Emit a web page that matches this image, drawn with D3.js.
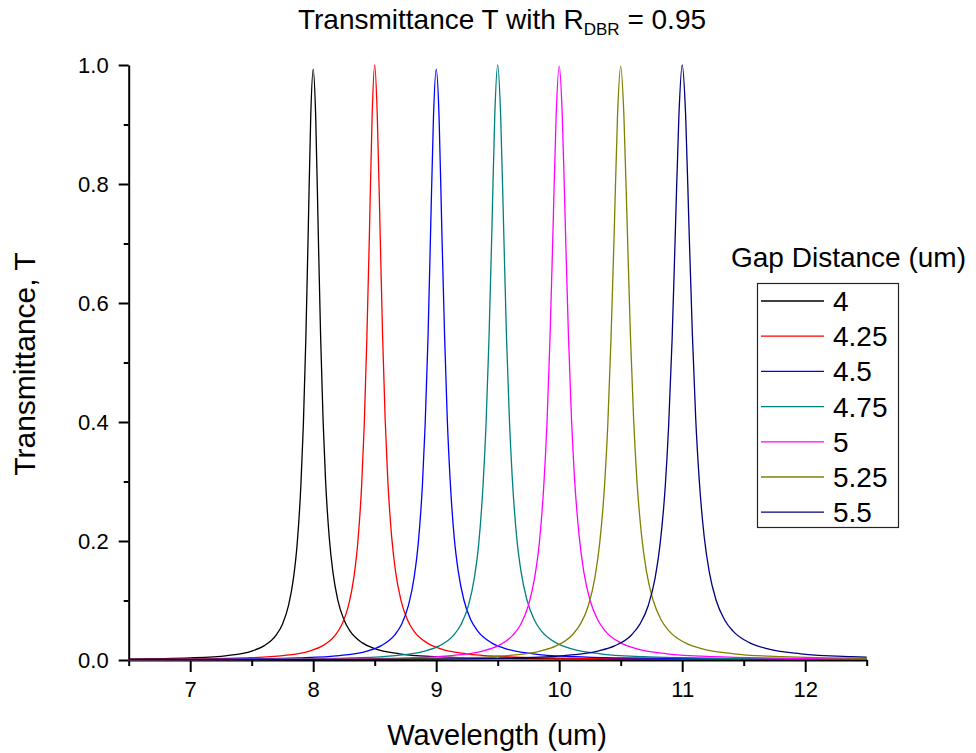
<!DOCTYPE html>
<html>
<head>
<meta charset="utf-8">
<script src="https://cdn.jsdelivr.net/npm/d3@7"></script>
<style>
  html, body { margin: 0; padding: 0; background: #fff; }
  svg text { font-family: "Liberation Sans", Arial, sans-serif; fill: #000; }
</style>
</head>
<body>
<svg id="chart" width="976" height="753"></svg>
<script>
// ---------- data ----------
const gapLabels = ["4", "4.25", "4.5", "4.75", "5", "5.25", "5.5"];
const xTicks = [7, 8, 9, 10, 11, 12];
const xMinorTicks = [6.5, 7.5, 8.5, 9.5, 10.5, 11.5, 12.5];
const yTicks = [0, 0.2, 0.4, 0.6, 0.8, 1.0];
const yMinorTicks = [0.1, 0.3, 0.5, 0.7, 0.9];

const gap4 = [[6.5,0.0015],[7.0,0.0035],[7.3,0.0074],[7.5,0.0150],[7.6,0.0237],[7.7,0.0421],[7.75,0.0602],[7.8,0.0921],[7.84,0.138],[7.87,0.196],[7.9,0.294],[7.92,0.395],[7.94,0.539],[7.96,0.725],[7.98,0.914],[8.0,0.993],[8.02,0.915],[8.04,0.729],[8.06,0.546],[8.08,0.405],[8.1,0.304],[8.13,0.207],[8.16,0.148],[8.2,0.1008],[8.25,0.0677],[8.3,0.0485],[8.4,0.0288],[8.5,0.0191],[8.7,0.0104],[9.0,0.0056],[9.5,0.0029],[10.5,0.0014],[11.5,0.00098],[12.5,0.0008]];
const gap425 = [[6.5,0.00097],[7.0,0.0017],[7.438,0.0035],[7.756,0.0074],[7.969,0.0150],[8.075,0.0237],[8.181,0.0421],[8.234,0.0602],[8.288,0.0921],[8.330,0.138],[8.362,0.196],[8.394,0.294],[8.415,0.395],[8.436,0.539],[8.458,0.725],[8.479,0.914],[8.5,1.0],[8.521,0.915],[8.543,0.729],[8.564,0.546],[8.585,0.405],[8.606,0.304],[8.638,0.207],[8.670,0.148],[8.713,0.1008],[8.766,0.0677],[8.819,0.0485],[8.925,0.0288],[9.031,0.0191],[9.244,0.0104],[9.563,0.0056],[10.0,0.0032],[11.0,0.0015],[12.5,0.00092]];
const gap45 = [[6.5,0.00075],[7.0,0.00108],[7.5,0.0019],[7.875,0.0035],[8.213,0.0074],[8.438,0.0150],[8.55,0.0237],[8.663,0.0421],[8.719,0.0602],[8.775,0.0921],[8.82,0.138],[8.854,0.196],[8.888,0.294],[8.91,0.395],[8.933,0.539],[8.955,0.725],[8.978,0.914],[9.0,0.993],[9.023,0.915],[9.045,0.729],[9.068,0.546],[9.09,0.405],[9.113,0.304],[9.146,0.207],[9.18,0.148],[9.225,0.1008],[9.281,0.0677],[9.338,0.0485],[9.45,0.0288],[9.563,0.0191],[9.788,0.0104],[10.125,0.0056],[10.5,0.0035],[11.5,0.00165],[12.5,0.0011]];
const gap475 = [[6.5,0.00067],[7.5,0.0012],[8.0,0.0021],[8.313,0.0035],[8.669,0.0074],[8.906,0.0150],[9.025,0.0237],[9.144,0.0421],[9.203,0.0602],[9.263,0.0921],[9.31,0.138],[9.346,0.196],[9.381,0.294],[9.405,0.395],[9.429,0.539],[9.453,0.725],[9.476,0.914],[9.5,1.0],[9.524,0.915],[9.548,0.729],[9.571,0.546],[9.595,0.405],[9.619,0.304],[9.654,0.207],[9.69,0.148],[9.738,0.1008],[9.797,0.0677],[9.856,0.0485],[9.975,0.0288],[10.094,0.0191],[10.331,0.0104],[10.688,0.0056],[11.0,0.0038],[11.5,0.0024],[12.5,0.0014]];
const gap5 = [[6.5,0.00067],[7.0,0.00069],[8.0,0.0013],[8.5,0.0024],[8.75,0.0035],[9.125,0.0074],[9.375,0.0150],[9.5,0.0237],[9.625,0.0421],[9.688,0.0602],[9.75,0.0921],[9.8,0.138],[9.838,0.196],[9.875,0.294],[9.9,0.395],[9.925,0.539],[9.95,0.725],[9.975,0.914],[10.0,0.998],[10.025,0.915],[10.05,0.729],[10.075,0.546],[10.1,0.405],[10.125,0.304],[10.163,0.207],[10.2,0.148],[10.25,0.1008],[10.313,0.0677],[10.375,0.0485],[10.5,0.0288],[10.625,0.0191],[10.875,0.0104],[11.25,0.0056],[12.0,0.0026],[12.5,0.0019]];
const gap525 = [[6.5,0.00075],[7.5,0.00073],[8.5,0.00145],[9.0,0.0026],[9.188,0.0035],[9.581,0.0074],[9.844,0.0150],[9.975,0.0237],[10.106,0.0421],[10.172,0.0602],[10.238,0.0921],[10.29,0.138],[10.329,0.196],[10.369,0.294],[10.395,0.395],[10.421,0.539],[10.448,0.725],[10.474,0.914],[10.5,0.998],[10.526,0.915],[10.553,0.729],[10.579,0.546],[10.605,0.405],[10.631,0.304],[10.671,0.207],[10.71,0.148],[10.763,0.1008],[10.828,0.0677],[10.894,0.0485],[11.025,0.0288],[11.156,0.0191],[11.419,0.0104],[11.813,0.0056],[12.5,0.0028]];
const gap55 = [[6.5,0.00097],[7.0,0.00069],[8.0,0.00077],[9.0,0.0016],[9.5,0.0029],[9.625,0.0035],[10.038,0.0074],[10.313,0.0150],[10.45,0.0237],[10.588,0.0421],[10.656,0.0602],[10.725,0.0921],[10.78,0.138],[10.821,0.196],[10.863,0.294],[10.89,0.395],[10.918,0.539],[10.945,0.725],[10.973,0.914],[11.0,1.0],[11.028,0.915],[11.055,0.729],[11.083,0.546],[11.11,0.405],[11.138,0.304],[11.179,0.207],[11.22,0.148],[11.275,0.1008],[11.344,0.0677],[11.413,0.0485],[11.55,0.0288],[11.688,0.0191],[11.963,0.0104],[12.375,0.0056],[12.5,0.0048]];

const seriesData = [gap4, gap425, gap45, gap475, gap5, gap525, gap55];
const colors = ["#000000", "#ff0000", "#0000ff", "#008080", "#ff00ff", "#808000", "#000080"];

// ---------- layout ----------
const svg = d3.select("#chart");
const x = d3.scaleLinear().domain([6.5, 12.5]).range([128.7, 866.7]);
const y = d3.scaleLinear().domain([0, 1]).range([660, 65]);

// axes
const gx = svg.append("g").attr("transform", "translate(0,660)");
gx.call(d3.axisBottom(x).tickValues(xMinorTicks).tickSize(6).tickSizeOuter(0).tickFormat(""));
gx.call(g => g.select(".domain").remove());
const gxMajor = svg.append("g").attr("transform", "translate(0,660)")
  .call(d3.axisBottom(x).tickValues(xTicks).tickSize(12).tickSizeOuter(0).tickPadding(9).tickFormat(d3.format("d")));
gxMajor.selectAll("text").style("font-size", "22px");

const gy = svg.append("g").attr("transform", "translate(128.7,0)");
gy.call(d3.axisLeft(y).tickValues(yMinorTicks).tickSize(5).tickSizeOuter(0).tickFormat(""));
gy.call(g => g.select(".domain").remove());
const gyMajor = svg.append("g").attr("transform", "translate(128.7,0)")
  .call(d3.axisLeft(y).tickValues(yTicks).tickSize(10).tickSizeOuter(0).tickPadding(10).tickFormat(d3.format(".1f")));
gyMajor.selectAll("text").style("font-size", "22px");

svg.selectAll(".domain").attr("stroke", "#000").attr("stroke-width", 2);
svg.selectAll(".tick line").attr("stroke", "#000").attr("stroke-width", 2);

// curves
const line = d3.line().x(d => x(d[0])).y(d => y(d[1])).curve(d3.curveMonotoneX);
seriesData.forEach((s, i) => {
  svg.append("path").datum(s)
    .attr("d", line)
    .attr("fill", "none")
    .attr("stroke", colors[i])
    .attr("stroke-width", 1.3);
});

// title
const title = svg.append("text").attr("x", 502).attr("y", 29)
  .attr("text-anchor", "middle").style("font-size", "28px");
title.append("tspan").text("Transmittance T with R");
title.append("tspan").attr("dy", 6).style("font-size", "17px").text("DBR");
title.append("tspan").attr("dy", -6).text(" = 0.95");

// axis titles
svg.append("text").attr("x", 497).attr("y", 745).attr("text-anchor", "middle")
  .style("font-size", "29px").text("Wavelength (um)");
svg.append("text").attr("transform", "translate(35,364) rotate(-90)")
  .attr("text-anchor", "middle").style("font-size", "30px").text("Transmittance, T");

// legend
svg.append("text").attr("x", 731).attr("y", 267).style("font-size", "28px").text("Gap Distance (um)");
const legend = svg.append("g");
legend.append("rect").attr("x", 757.5).attr("y", 283.5).attr("width", 141).attr("height", 244)
  .attr("fill", "#fff").attr("stroke", "#222").attr("stroke-width", 1.2);
gapLabels.forEach((lab, i) => {
  const cy = 301 + i * 35.2;
  legend.append("line").attr("x1", 761).attr("x2", 824).attr("y1", cy).attr("y2", cy)
    .attr("stroke", colors[i]).attr("stroke-width", 1.3);
  legend.append("text").attr("x", 833).attr("y", cy + 10).style("font-size", "28px").text(lab);
});
</script>
</body>
</html>
